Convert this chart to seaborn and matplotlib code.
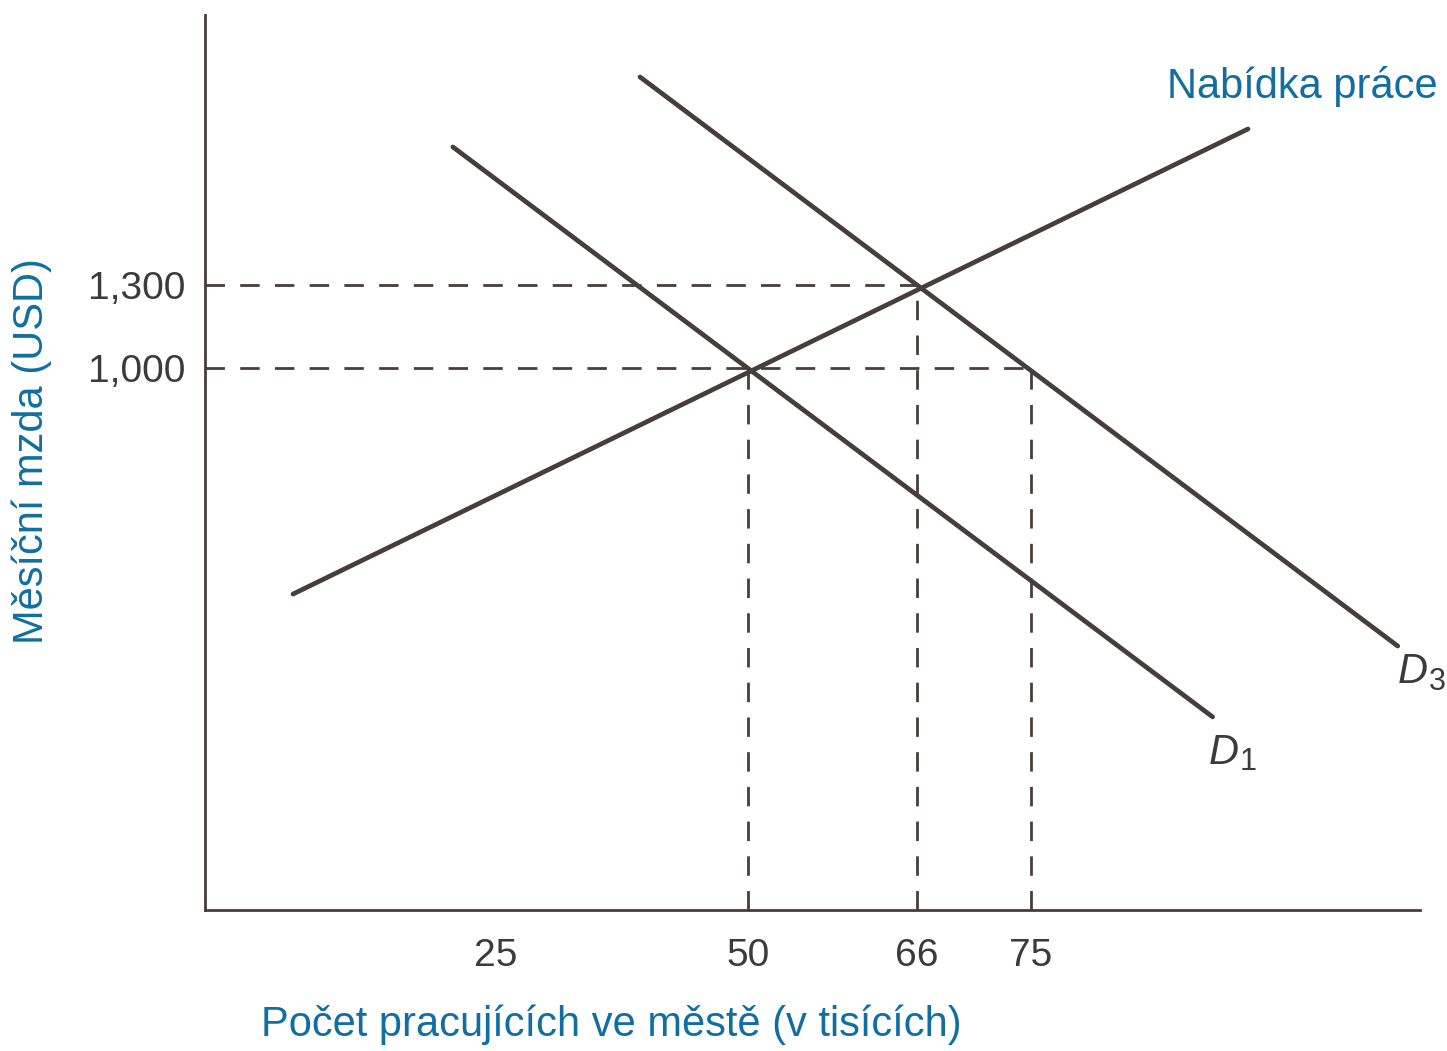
import matplotlib
matplotlib.use("Agg")
import matplotlib.pyplot as plt
import seaborn as sns
import pandas as pd

# Values (x in thousands of workers, y in USD, on the drawing's own scale)
supply_x = [5.0, 99.4]
supply_y = [183, 1864]
d1_x = [20.8, 95.9]
d1_y = [1799, -261]
d3_x = [39.3, 114.2]
d3_y = [2052, -5]

wage_levels = [1000, 1300]
wage_labels = ["1,000", "1,300"]
wage_dash_end = [77.9, 66.7]          # where the horizontal dashed guides stop
worker_pos = [25, 50, 66.7, 77.9]     # tick positions on the sketch
worker_labels = ["25", "50", "66", "75"]
guide_x = [50, 66.7, 77.9]            # vertical dashed guides
guide_top = [1000, 1300, 1000]

curve_names = ["D", "D"]
curve_subs = ["1", "3"]
curve_label_x = [95.5, 114.2]
curve_label_y = [-390, -100]

x_lim = (-3.7, 116.4)
y_lim = (-959, 2276)

BLUE = "#106fa0"
INK = "#473e3c"
GREY = "#3c3a3a"

sns.set_theme(style="white")
plt.rcParams["font.family"] = ["Liberation Sans", "DejaVu Sans"]

fig = plt.figure(figsize=(14.47, 10.51), dpi=100)
ax = fig.add_axes([205 / 1447, 1 - 910 / 1051, (1420 - 205) / 1447, (910 - 15) / 1051])

lines = pd.DataFrame({
    "x": supply_x + d1_x + d3_x,
    "y": supply_y + d1_y + d3_y,
    "curve": ["S", "S", "D1", "D1", "D3", "D3"],
})
sns.lineplot(data=lines, x="x", y="y", units="curve", estimator=None, sort=False,
             color=INK, lw=3.4, ax=ax, solid_capstyle="round")

dash = dict(color=INK, lw=2.0, dashes=(7, 5.5))
for lvl, end in zip(wage_levels, wage_dash_end):
    ax.plot([x_lim[0], end], [lvl, lvl], **dash)
for gx, top in zip(guide_x, guide_top):
    ax.plot([gx, gx], [y_lim[0], top], **dash)

ax.set_xlim(*x_lim)
ax.set_ylim(*y_lim)
sns.despine(ax=ax)
for side in ["left", "bottom"]:
    ax.spines[side].set_color(INK)
    ax.spines[side].set_linewidth(2.0)

ax.set_xticks(worker_pos)
ax.set_xticklabels(worker_labels, fontsize=28, color=GREY)
ax.set_yticks(wage_levels)
ax.set_yticklabels(wage_labels, fontsize=28, color=GREY)
ax.tick_params(axis="both", length=0)
ax.tick_params(axis="x", pad=20)
ax.tick_params(axis="y", pad=14)
ax.set_xlabel("")
ax.set_ylabel("")

fig.text(611 / 1447, 1 - 1025 / 1051, "Počet pracujících ve městě (v tisících)",
         fontsize=30, color=BLUE, ha="center", va="center")
fig.text(32 / 1447, 1 - 451 / 1051, "Měsíční mzda (USD)", rotation=90,
         fontsize=30, color=BLUE, ha="center", va="center")

ax.text(1.0145, 0.92, "Nabídka práce", transform=ax.transAxes, fontsize=30,
        color=BLUE, ha="right", va="center", clip_on=False)

for name, sub, lx, ly in zip(curve_names, curve_subs, curve_label_x, curve_label_y):
    ax.text(lx, ly, name, fontsize=30, style="italic", color=GREY,
            ha="left", va="center", clip_on=False)
    ax.annotate(sub, (lx, ly), xytext=(22.5, -7), textcoords="offset points",
                fontsize=22, color=GREY, ha="left", va="center", annotation_clip=False)

fig.savefig("out.png", dpi=100)
